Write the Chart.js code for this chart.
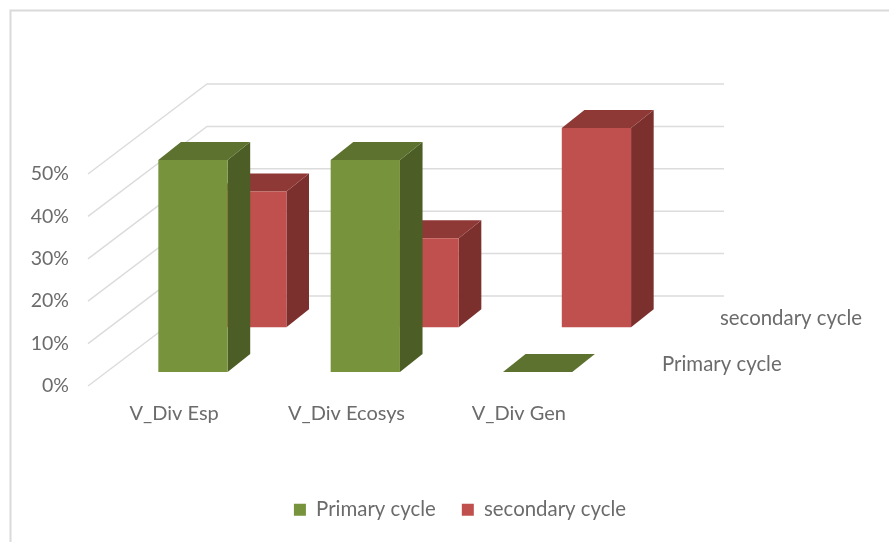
<!DOCTYPE html>
<html>
<head>
<meta charset="utf-8">
<style>html,body{margin:0;padding:0;background:#fff}canvas{display:block}</style>
<script src="https://cdn.jsdelivr.net/npm/chart.js@4"></script>
</head>
<body>
<canvas id="c" width="889" height="542"></canvas>
<script>
const categories = ['V_Div Esp', 'V_Div Ecosys', 'V_Div Gen'];
const primaryValues = [50, 50, 0];
const secondaryValues = [32, 21, 47];
const seriesNames = ['Primary cycle', 'secondary cycle'];

const FONT = 'Lato';
const FONT_SIZE = 20.4;
const TEXT = '#6b6b6b';
const GRID = '#dcdcdc';
const WALL = {dx: 119, dy: -90};
const faces = [
  {dx: 18.8, dy: -14, front: '#77933C', top: '#5C722E', side: '#4C5E25', label: {x: 662, y: 364}},
  {dx: 77.6, dy: -58.7, front: '#C0504D', top: '#8F3937', side: '#7B302E', label: {x: 720, y: 318}}
];
const DEPTH = {dx: 22.6, dy: -18};
const PAD_BOTTOM = 12;

const poly = (ctx, pts, fill) => {
  ctx.fillStyle = fill;
  ctx.beginPath();
  pts.forEach((p, i) => i ? ctx.lineTo(p[0], p[1]) : ctx.moveTo(p[0], p[1]));
  ctx.closePath();
  ctx.fill();
};

const threeD = {
  id: 'threeD',
  beforeDraw(chart) {
    const ctx = chart.ctx;
    ctx.save();
    ctx.strokeStyle = '#dadada';
    ctx.lineWidth = 2;
    ctx.beginPath();
    ctx.moveTo(10.5, 542);
    ctx.lineTo(10.5, 10.5);
    ctx.lineTo(889, 10.5);
    ctx.stroke();
    ctx.restore();
  },
  beforeDatasetsDraw(chart) {
    const ctx = chart.ctx, y = chart.scales.y, a = chart.chartArea;
    ctx.save();
    ctx.strokeStyle = GRID;
    ctx.lineWidth = 1.5;
    y.ticks.forEach(t => {
      const py = y.getPixelForValue(t.value);
      ctx.beginPath();
      ctx.moveTo(a.left, py);
      ctx.lineTo(a.left + WALL.dx, py + WALL.dy);
      ctx.lineTo(a.right + WALL.dx, py + WALL.dy);
      ctx.stroke();
    });
    ctx.fillStyle = TEXT;
    ctx.font = FONT_SIZE + 'px ' + FONT;
    ctx.textBaseline = 'middle';
    ctx.textAlign = 'left';
    faces.forEach((f, i) => ctx.fillText(seriesNames[i], f.label.x, f.label.y));
    ctx.restore();
  },
  beforeDatasetDraw(chart, args) {
    const ctx = chart.ctx, f = faces[args.index];
    ctx.save();
    ctx.translate(f.dx, f.dy);
    args.meta.data.forEach(b => {
      const l = b.x - b.width / 2, r = b.x + b.width / 2, t = b.y, base = b.base;
      poly(ctx, [[r, t], [r + DEPTH.dx, t + DEPTH.dy], [r + DEPTH.dx, base + DEPTH.dy], [r, base]], f.side);
      poly(ctx, [[l, t], [r, t], [r + DEPTH.dx, t + DEPTH.dy], [l + DEPTH.dx, t + DEPTH.dy]], f.top);
    });
  },
  afterDatasetDraw(chart) {
    chart.ctx.restore();
  }
};

new Chart(document.getElementById('c'), {
  type: 'bar',
  data: {
    labels: categories,
    datasets: [
      {label: seriesNames[0], data: primaryValues, backgroundColor: faces[0].front, order: 0, clip: false},
      {label: seriesNames[1], data: secondaryValues, backgroundColor: faces[1].front, order: 1, clip: false}
    ]
  },
  options: {
    responsive: false,
    animation: false,
    layout: {padding: {left: 31, right: 0, top: 174, bottom: PAD_BOTTOM}},
    datasets: {bar: {grouped: false, barPercentage: 0.402, categoryPercentage: 1, borderWidth: 0, inflateAmount: 0}},
    plugins: {
      tooltip: {enabled: false},
      legend: {
        position: 'bottom',
        labels: {
          boxWidth: 12, boxHeight: 12, padding: 26, color: TEXT,
          font: {family: FONT, size: FONT_SIZE}
        }
      }
    },
    scales: {
      x: {
        grid: {display: false, drawTicks: false},
        border: {display: false},
        ticks: {color: TEXT, padding: 16, font: {family: FONT, size: 20}, maxRotation: 0},
        afterFit(s) { s.height = 542 - 386 - PAD_BOTTOM - ((s.chart.legend && s.chart.legend.height) || 46); }
      },
      y: {
        min: 0, max: 50,
        grid: {display: false, drawTicks: false},
        border: {display: false},
        ticks: {stepSize: 10, color: TEXT, padding: 19, font: {family: FONT, size: 19.5}, callback: v => v + '%'},
        afterFit(s) { s.width = 57; }
      },
      pad: {
        position: 'right',
        grid: {display: false, drawTicks: false},
        border: {display: false},
        ticks: {display: false},
        afterFit(s) { s.width = 284; }
      }
    }
  },
  plugins: [threeD]
});
</script>
</body>
</html>
